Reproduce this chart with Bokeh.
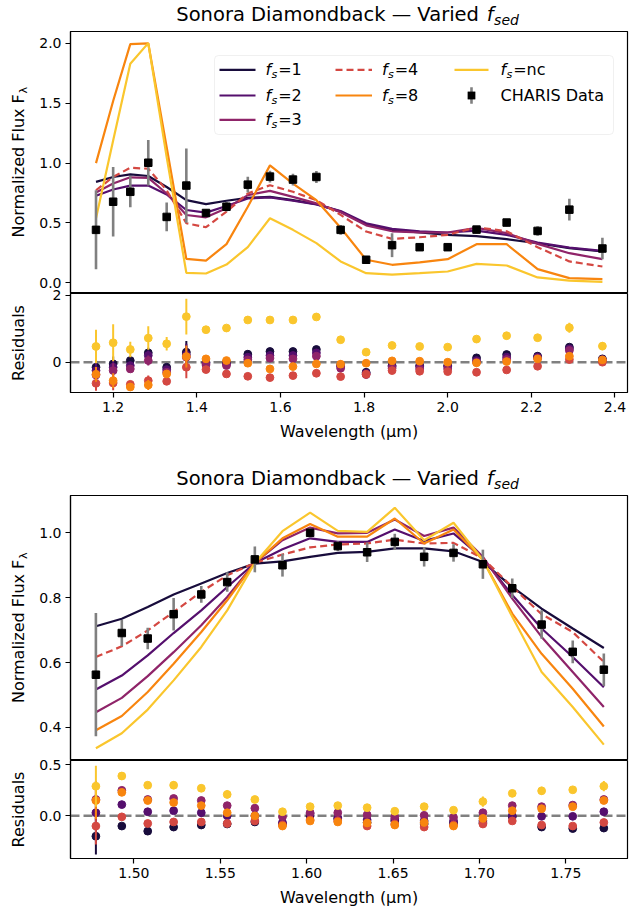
import math
from bokeh.plotting import figure
from bokeh.layouts import column, row
from bokeh.models import (Range1d, FixedTicker, PrintfTickFormatter, Span, Label,
                          Arrow, BoxAnnotation)
from bokeh.embed import file_html
from bokeh.resources import INLINE

# ---------------- data: broadband (top) ----------------
wl_top = [1.159, 1.200, 1.241, 1.284, 1.328, 1.375, 1.422, 1.471, 1.522, 1.575, 1.630,
          1.686, 1.744, 1.805, 1.867, 1.933, 2.000, 2.069, 2.141, 2.215, 2.291, 2.370]
data_top = [0.442, 0.677, 0.760, 1.003, 0.550, 0.812, 0.583, 0.635, 0.820, 0.887, 0.862,
            0.884, 0.442, 0.192, 0.314, 0.297, 0.297, 0.444, 0.503, 0.433, 0.611, 0.286]
err_top = [0.33, 0.29, 0.13, 0.19, 0.12, 0.31, 0.03, 0.04, 0.065, 0.05, 0.05,
           0.05, 0.04, 0.03, 0.10, 0.03, 0.03, 0.03, 0.03, 0.04, 0.09, 0.09]
f1_top = [0.843, 0.884, 0.906, 0.892, 0.800, 0.690, 0.657, 0.685, 0.710, 0.718, 0.690,
          0.657, 0.594, 0.490, 0.440, 0.420, 0.400, 0.390, 0.364, 0.330, 0.289, 0.261]
f2_top = [0.727, 0.779, 0.812, 0.812, 0.738, 0.608, 0.586, 0.641, 0.704, 0.713, 0.685,
          0.655, 0.600, 0.497, 0.450, 0.430, 0.420, 0.436, 0.400, 0.336, 0.294, 0.267]
f3_top = [0.754, 0.829, 0.881, 0.876, 0.746, 0.566, 0.547, 0.622, 0.732, 0.768, 0.718,
          0.663, 0.590, 0.480, 0.430, 0.420, 0.420, 0.458, 0.414, 0.325, 0.247, 0.197]
f4_top = [0.773, 0.884, 0.961, 0.953, 0.773, 0.497, 0.464, 0.594, 0.746, 0.815, 0.760,
          0.690, 0.567, 0.428, 0.367, 0.380, 0.400, 0.464, 0.430, 0.297, 0.178, 0.136]
f8_top = [1.000, 1.519, 1.994, 2.000, 1.133, 0.199, 0.185, 0.323, 0.635, 0.981, 0.829,
          0.690, 0.460, 0.192, 0.150, 0.170, 0.197, 0.322, 0.322, 0.114, 0.039, 0.030]
nc_top = [0.539, 1.188, 1.830, 2.003, 1.050, 0.083, 0.077, 0.152, 0.298, 0.539, 0.442,
          0.331, 0.178, 0.080, 0.067, 0.080, 0.094, 0.158, 0.144, 0.044, 0.017, 0.008]

res_f1_top = [-0.15, -0.05, 0.05, 0.28, -0.15, 0.30, 0.00, 0.00, 0.24, 0.32, 0.32,
              0.38, -0.08, -0.30, -0.10, -0.10, -0.10, 0.13, 0.23, 0.18, 0.45, 0.10]
res_f2_top = [-0.25, -0.15, -0.10, 0.20, -0.22, 0.22, -0.03, -0.05, 0.15, 0.20, 0.20,
              0.28, -0.12, -0.33, -0.13, -0.13, -0.13, 0.05, 0.15, 0.15, 0.40, 0.08]
res_f3_top = [-0.38, -0.25, -0.20, 0.05, -0.30, 0.15, -0.08, -0.10, 0.07, 0.12, 0.10,
              0.18, -0.18, -0.37, -0.18, -0.20, -0.20, 0.00, 0.08, 0.12, 0.35, 0.05]
res_f4_top = [-0.63, -0.62, -0.66, -0.55, -0.57, -0.15, -0.22, -0.35, -0.42, -0.46, -0.40,
              -0.33, -0.43, -0.36, -0.25, -0.27, -0.28, -0.30, -0.23, -0.12, 0.08, 0.00]
res_f8_top = [-0.36, -0.55, -0.74, -0.68, -0.35, 0.17, 0.10, 0.05, -0.03, -0.20, -0.13,
              -0.05, -0.06, -0.03, 0.04, 0.03, 0.00, -0.02, 0.02, 0.10, 0.18, 0.07]
res_nc_top = [0.47, 0.58, 0.38, 0.72, 0.55, 1.36, 0.97, 1.02, 1.26, 1.26, 1.26,
              1.35, 0.67, 0.30, 0.50, 0.47, 0.45, 0.69, 0.79, 0.73, 1.03, 0.48]
res_err_model_top = [0.22, 0.22, 0.10, 0.15, 0.10, 0.33, 0.02, 0.03, 0.05, 0.04, 0.04,
                     0.04, 0.04, 0.03, 0.08, 0.03, 0.03, 0.03, 0.03, 0.04, 0.08, 0.08]
res_err_nc_top = [0.50, 0.55, 0.23, 0.35, 0.20, 0.53, 0.03, 0.04, 0.05, 0.05, 0.05,
                  0.06, 0.05, 0.05, 0.10, 0.04, 0.04, 0.04, 0.04, 0.06, 0.15, 0.12]

# ---------------- data: H band (bottom) ----------------
wl_bot = [1.478, 1.493, 1.508, 1.523, 1.539, 1.554, 1.570, 1.586, 1.602, 1.618,
          1.635, 1.651, 1.668, 1.685, 1.702, 1.719, 1.736, 1.754, 1.772]
data_bot = [0.5625, 0.691, 0.674, 0.749, 0.810, 0.848, 0.918, 0.900, 1.000, 0.959,
            0.940, 0.972, 0.926, 0.938, 0.903, 0.829, 0.717, 0.633, 0.578]
err_bot = [0.19, 0.04, 0.033, 0.05, 0.026, 0.03, 0.04, 0.035, 0.015, 0.015,
           0.03, 0.025, 0.03, 0.027, 0.045, 0.03, 0.044, 0.035, 0.05]
f1_bot = [0.712, 0.735, 0.771, 0.810, 0.844, 0.876, 0.905, 0.912, 0.926, 0.938,
          0.941, 0.952, 0.952, 0.943, 0.910, 0.833, 0.766, 0.705, 0.645]
f2_bot = [0.517, 0.560, 0.622, 0.691, 0.761, 0.833, 0.907, 0.949, 0.983, 0.972,
          0.972, 1.010, 0.975, 0.998, 0.921, 0.808, 0.705, 0.617, 0.524]
f3_bot = [0.447, 0.491, 0.558, 0.632, 0.715, 0.802, 0.907, 0.977, 1.016, 0.998,
          1.000, 1.041, 0.990, 1.016, 0.926, 0.797, 0.679, 0.571, 0.463]
f4_bot = [0.617, 0.650, 0.699, 0.756, 0.818, 0.869, 0.907, 0.933, 0.955, 0.964,
          0.967, 0.979, 0.967, 0.969, 0.921, 0.833, 0.749, 0.694, 0.602]
f8_bot = [0.391, 0.435, 0.509, 0.596, 0.694, 0.792, 0.907, 0.983, 1.027, 0.988,
          0.988, 1.044, 0.967, 1.010, 0.916, 0.751, 0.627, 0.519, 0.403]
nc_bot = [0.336, 0.382, 0.455, 0.545, 0.648, 0.761, 0.907, 1.005, 1.062, 1.006,
          1.003, 1.077, 0.977, 1.031, 0.916, 0.741, 0.571, 0.463, 0.347]

res_f1_bot = [-0.20, -0.10, -0.15, -0.11, -0.09, -0.08, -0.06, -0.08, 0.00, -0.03,
              -0.065, -0.05, -0.08, -0.07, -0.07, -0.01, -0.11, -0.125, -0.12]
res_f2_bot = [0.03, 0.11, 0.04, 0.05, 0.03, 0.00, 0.00, -0.065, 0.02, -0.02,
              -0.04, -0.03, -0.05, -0.05, -0.05, 0.00, -0.005, -0.005, 0.04]
res_f3_bot = [0.16, 0.25, 0.16, 0.17, 0.15, 0.10, 0.075, -0.01, 0.03, 0.03,
              0.01, -0.01, 0.005, -0.015, 0.03, 0.10, 0.09, 0.105, 0.16]
res_f4_bot = [-0.10, -0.01, -0.075, -0.06, -0.06, -0.075, -0.05, -0.09, -0.04, -0.05,
              -0.10, -0.08, -0.11, -0.09, -0.08, -0.05, -0.09, -0.10, -0.065]
res_f8_bot = [0.15, 0.23, 0.15, 0.13, 0.10, 0.03, 0.00, -0.10, -0.05, -0.06,
              -0.07, -0.09, -0.065, -0.10, -0.025, 0.05, 0.07, 0.09, 0.15]
res_nc_bot = [0.29, 0.39, 0.30, 0.30, 0.27, 0.21, 0.16, 0.04, 0.09, 0.10,
              0.08, 0.045, 0.09, 0.055, 0.14, 0.22, 0.245, 0.255, 0.29]
res_err_model_bot = [0.18, 0.03, 0.02, 0.03, 0.02, 0.02, 0.02, 0.02, 0.01, 0.01,
                     0.01, 0.01, 0.02, 0.01, 0.03, 0.02, 0.03, 0.02, 0.03]
res_err_nc_bot = [0.20, 0.04, 0.02, 0.04, 0.02, 0.04, 0.03, 0.03, 0.02, 0.02,
                  0.02, 0.02, 0.02, 0.02, 0.05, 0.02, 0.04, 0.03, 0.05]

# ---------------- labels / ticks ----------------
model_keys = ["1", "2", "3", "4", "8", "nc"]
model_colors = ["#180c3c", "#550f6d", "#8f2469", "#d44842", "#f8850f", "#fac62d"]
xticks_top = [1.2, 1.4, 1.6, 1.8, 2.0, 2.2, 2.4]
xticks_bot = [1.50, 1.55, 1.60, 1.65, 1.70, 1.75]
yticks_top = [0.0, 0.5, 1.0, 1.5, 2.0]
yticks_res_top = [0, 2]
yticks_bot = [0.4, 0.6, 0.8, 1.0]
yticks_res_bot = [0.0, 0.5]
title_main = "Sonora Diamondback \u2014 Varied"
title_sub = "sed"
xlabel = "Wavelength (\u03bcm)"
ylabel_main = "Normalized Flux F"
ylabel_res = "Residuals"
data_label = "CHARIS Data"

FONT = "DejaVu Sans"
W = 629            # page width
LW = 36            # y-label strip width
PW = W - LW        # plot figure width
BL = 34            # left border inside plot figure (tick labels)
BR = 2
FX0 = LW + BL      # frame left on page (70)
FX1 = W - BR       # frame right on page (627)
FCX = (FX0 + FX1) / 2
SUB = 0.3035       # vertical offset (em) of a subscript's middle
OV = 8             # overlap of a residual canvas over the panel above it


def strip(w, h, bottom=0, top=0):
    s = figure(width=w, height=h, title=None, x_range=Range1d(0, 1), y_range=Range1d(0, 1),
               output_backend="svg", toolbar_location=None,
               x_axis_location=None, y_axis_location=None, min_border=0,
               min_border_left=0, min_border_right=0, min_border_top=top,
               min_border_bottom=bottom)
    s.outline_line_color = None
    s.grid.visible = False
    s.background_fill_color = "white"
    s.border_fill_color = "white"
    return s


def base_fig(h, bottom, xr, yr, xaxis, top=0):
    p = figure(width=PW, height=h, title=None, x_range=Range1d(*xr), y_range=Range1d(*yr),
               output_backend="svg", toolbar_location=None,
               x_axis_location="below" if xaxis else None,
               min_border_left=BL, min_border_right=BR,
               min_border_top=top, min_border_bottom=bottom)
    p.grid.visible = False
    p.outline_line_color = "black"
    p.outline_line_width = 1.2
    p.outline_line_alpha = 1.0
    p.background_fill_color = "white"
    p.border_fill_color = "white"
    for ax in list(p.xaxis) + list(p.yaxis):
        ax.major_tick_out = 5
        ax.major_tick_in = 0
        ax.minor_tick_line_color = None
        ax.major_tick_line_color = "black"
        ax.major_tick_line_width = 1.2
        ax.axis_line_color = "black"
        ax.axis_line_width = 1.2
        ax.major_label_text_font = FONT
        ax.major_label_text_font_size = "14px"
        ax.major_label_text_color = "black"
        ax.major_label_standoff = 4
    return p


def lab(p, x, y, text, size, italic=False, align="left", baseline="middle", angle=0.0):
    p.add_layout(Label(x=x, y=y, x_units="screen", y_units="screen", text=text,
                       text_font=FONT, text_font_size=f"{size}px",
                       text_font_style="italic" if italic else "normal",
                       text_align=align, text_baseline=baseline, angle=angle,
                       text_color="black"))


def title(s, yc, size=19.5):
    total = 17.507 * size
    x0 = FCX - total / 2 - 2
    lab(s, x0, yc, title_main, size)
    xf = x0 + (15.597 + 0.318) * size
    lab(s, xf, yc, "f", size, italic=True)
    lab(s, xf + 0.352 * size + 0.6, yc - SUB * size, title_sub, round(0.72 * size, 1),
        italic=True)


def ylab_flux(s, yc, size=16):
    main_len = 8.978 * size
    sub_len = 0.6 * 0.7 * size
    total = main_len + sub_len
    y0 = yc - total / 2
    lab(s, 18, y0 + main_len / 2, ylabel_main, size, align="center", angle=math.pi / 2)
    lab(s, 18 + SUB * size, y0 + main_len + 0.5, "\u03bb", round(0.7 * size, 1),
        align="left", angle=math.pi / 2)


def ylab_res(s, yc, size=16):
    lab(s, 18, yc, ylabel_res, size, align="center", angle=math.pi / 2)


def xlab(s, yc, size=16):
    lab(s, FCX, yc, xlabel, size, align="center")


def errbars(p, x, y, e, color, width):
    lo = [a - b for a, b in zip(y, e)]
    hi = [a + b for a, b in zip(y, e)]
    p.segment(x0=x, y0=lo, x1=x, y1=hi, line_color=color, line_width=width)


def main_panel(p, wl, models, data, err):
    for key, col, ys in zip(model_keys, model_colors, models):
        dash = "7 4" if key == "4" else "solid"
        p.line(wl, ys, line_color=col, line_width=2.2, line_dash=dash)
    errbars(p, wl, data, err, "#808080", 2.6)
    p.scatter(wl, data, marker="square", size=7.5, fill_color="black", line_color="black")


def res_panel(p, wl, res, err_model, err_nc):
    p.add_layout(Span(location=0, dimension="width", line_color="#808080", line_width=2.5,
                      line_dash="9 4", level="underlay"))
    for key, col, ys in zip(model_keys, model_colors, res):
        e = err_nc if key == "nc" else err_model
        errbars(p, wl, ys, e, col, 2.0)
        p.scatter(wl, ys, marker="circle", size=7.8, fill_color=col, line_color=col)


def set_ticks(p, xt, xfmt, yt, yfmt):
    if p.xaxis:
        p.xaxis.ticker = FixedTicker(ticks=xt)
        p.xaxis.formatter = PrintfTickFormatter(format=xfmt)
    p.yaxis.ticker = FixedTicker(ticks=yt)
    p.yaxis.formatter = PrintfTickFormatter(format=yfmt)


def legend(p):
    box = BoxAnnotation(left=144, right=543, top=238, bottom=159,
                        left_units="screen", right_units="screen",
                        top_units="screen", bottom_units="screen",
                        fill_color="white", fill_alpha=0.85, line_color="#cccccc",
                        line_width=1, border_radius=4, level="annotation")
    p.add_layout(box)
    rows = [223.7, 198.0, 173.7]
    cols = [(149, 185, 195), (265, 301.5, 311.5), (384, 418, 430)]
    slots = [(0, 0), (0, 1), (0, 2), (1, 0), (1, 1), (2, 0)]
    size = 16
    for key, col, (ci, ri) in zip(model_keys, model_colors, slots):
        xs, xe, xt = cols[ci]
        y = rows[ri]
        p.add_layout(Arrow(end=None, start=None, x_start=xs, y_start=y, x_end=xe, y_end=y,
                           start_units="screen", end_units="screen", line_color=col,
                           line_width=2.2, line_dash="7 4" if key == "4" else "solid"))
        lab(p, xt, y, "f", size, italic=True)
        xsub = xt + 0.352 * size + 0.4
        lab(p, xsub, y - 4.7, "s", round(0.7 * size, 1), italic=True)
        lab(p, xsub + 0.521 * 0.7 * size + 0.8, y, "=" + key, size)
    xs, xe, xt = cols[2]
    y = rows[1]
    xm = (xs + xe) / 2
    p.add_layout(Arrow(end=None, start=None, x_start=xm, y_start=y - 8.3, x_end=xm, y_end=y + 8.3,
                       start_units="screen", end_units="screen", line_color="#808080",
                       line_width=2.6))
    p.add_layout(BoxAnnotation(left=xm - 3.7, right=xm + 3.7, top=y + 3.7, bottom=y - 3.7,
                               left_units="screen", right_units="screen",
                               top_units="screen", bottom_units="screen",
                               fill_color="black", fill_alpha=1, line_color="black",
                               level="annotation"))
    lab(p, xt, y, data_label, size)


def residual_row(p, s):
    # transparent top border so the panel above stays visible under it
    p.border_fill_alpha = 0
    s.border_fill_alpha = 0
    s.background_fill_alpha = 0
    return row(s, p, spacing=0, margin=(-OV, 0, 0, 0))


# ---------------- figures ----------------
xr_top = (1.098, 2.430)
xr_bot = (1.4633, 1.7857)

# title strip 1 (page y 0..31)
t1 = strip(W, 31)
title(t1, 17)

# row 1: main top (page y 31..293)
p1 = base_fig(262, 0, xr_top, (-0.09, 2.10), xaxis=False)
main_panel(p1, wl_top, [f1_top, f2_top, f3_top, f4_top, f8_top, nc_top], data_top, err_top)
set_ticks(p1, xticks_top, "%.1f", yticks_top, "%.1f")
legend(p1)
y1 = strip(LW, 262)
ylab_flux(y1, 131)

# row 2: residual top (frame page y 293..392)
p2 = base_fig(127 + OV, 28, xr_top, (-0.904, 2.05), xaxis=True, top=OV)
res_panel(p2, wl_top, [res_f1_top, res_f2_top, res_f3_top, res_f4_top, res_f8_top, res_nc_top],
          res_err_model_top, res_err_nc_top)
set_ticks(p2, xticks_top, "%.1f", yticks_res_top, "%d")
y2 = strip(LW, 127 + OV, bottom=28, top=OV)
ylab_res(y2, 49.5)

# middle strip: x label of top + title of bottom (page y 420..495)
mid = strip(W, 75)
xlab(mid, 75 - 11)
title(mid, 17)

# row 3: main bottom (page y 495..760)
p3 = base_fig(265, 0, xr_bot, (0.298, 1.115), xaxis=False)
main_panel(p3, wl_bot, [f1_bot, f2_bot, f3_bot, f4_bot, f8_bot, nc_bot], data_bot, err_bot)
set_ticks(p3, xticks_bot, "%.2f", yticks_bot, "%.1f")
y3 = strip(LW, 265)
ylab_flux(y3, 132.5)

# row 4: residual bottom (frame page y 760..858)
p4 = base_fig(126 + OV, 28, xr_bot, (-0.418, 0.542), xaxis=True, top=OV)
res_panel(p4, wl_bot, [res_f1_bot, res_f2_bot, res_f3_bot, res_f4_bot, res_f8_bot, res_nc_bot],
          res_err_model_bot, res_err_nc_bot)
set_ticks(p4, xticks_bot, "%.2f", yticks_res_bot, "%.1f")
y4 = strip(LW, 126 + OV, bottom=28, top=OV)
ylab_res(y4, 49)

# bottom strip: x label (page y 886..912)
bot = strip(W, 26)
xlab(bot, 15)

layout = column(t1, row(y1, p1, spacing=0), residual_row(p2, y2), mid,
                row(y3, p3, spacing=0), residual_row(p4, y4), bot, spacing=0)
open("out.html", "w").write(file_html(layout, INLINE))
